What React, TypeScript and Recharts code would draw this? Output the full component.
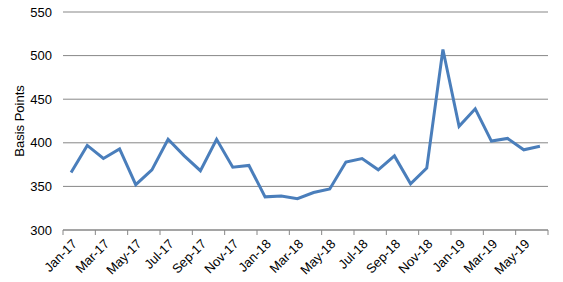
import { LineChart, Line, XAxis, YAxis, CartesianGrid } from "recharts";

const months = [
  "Jan-17", "Feb-17", "Mar-17", "Apr-17", "May-17", "Jun-17",
  "Jul-17", "Aug-17", "Sep-17", "Oct-17", "Nov-17", "Dec-17",
  "Jan-18", "Feb-18", "Mar-18", "Apr-18", "May-18", "Jun-18",
  "Jul-18", "Aug-18", "Sep-18", "Oct-18", "Nov-18", "Dec-18",
  "Jan-19", "Feb-19", "Mar-19", "Apr-19", "May-19", "Jun-19",
];

const basisPoints = [
  366, 397, 382, 393, 352, 369, 404, 385, 368, 404, 372, 374,
  338, 339, 336, 343, 347, 378, 382, 369, 385, 353, 371, 507,
  419, 439, 402, 405, 392, 396,
];

const yTicks = [300, 350, 400, 450, 500, 550];

// category boundaries, labelled every other month (like Excel)
const xTicks = months.map((_, i) => i).filter((i) => i % 2 === 0).concat(months.length);

const W = 563;
const H = 282;
const Y_AXIS_W = 63;
const MARGIN = { top: 12, right: 15, bottom: 0, left: 0 };
const FONT = "'Liberation Sans', Arial, sans-serif";

const data = months.map((m, i) => ({ idx: i + 0.5, month: m, value: basisPoints[i] }));

const halfCat = (W - Y_AXIS_W - MARGIN.right - MARGIN.left) / months.length / 2;

function MonthTick({ x, y, payload }: { x?: number; y?: number; payload?: { value: number } }) {
  const v = payload?.value ?? 0;
  if (v >= months.length) return <g />;
  return (
    <g transform={`translate(${(x ?? 0) + halfCat + 1},${(y ?? 0) + 2})`}>
      <text x={0} y={0} dy={8} textAnchor="end" transform="rotate(-45)" fontSize={13} fill="#000" fontFamily={FONT}>
        {months[v]}
      </text>
    </g>
  );
}

export default function App() {
  return (
    <div style={{ position: "absolute", left: 0, top: 0, background: "#fff" }}>
      <LineChart width={W} height={H} data={data} margin={MARGIN}>
        <CartesianGrid vertical={false} stroke="#878787" />
        <XAxis
          type="number"
          dataKey="idx"
          domain={[0, months.length]}
          ticks={xTicks}
          interval={0}
          height={52}
          tickSize={5}
          stroke="#878787"
          tick={<MonthTick />}
        />
        <YAxis
          domain={[300, 550]}
          ticks={yTicks}
          width={Y_AXIS_W}
          axisLine={false}
          tickLine={false}
          tickSize={6}
          tickMargin={5}
          tick={{ fontSize: 13, fill: "#000", fontFamily: FONT }}
          label={{
            value: "Basis Points",
            angle: -90,
            position: "insideLeft",
            offset: 19,
            style: { textAnchor: "middle", fontSize: 13, fill: "#000", fontFamily: FONT },
          }}
        />
        <Line
          type="linear"
          dataKey="value"
          stroke="#4a7ebb"
          strokeWidth={3}
          dot={false}
          isAnimationActive={false}
        />
      </LineChart>
    </div>
  );
}
